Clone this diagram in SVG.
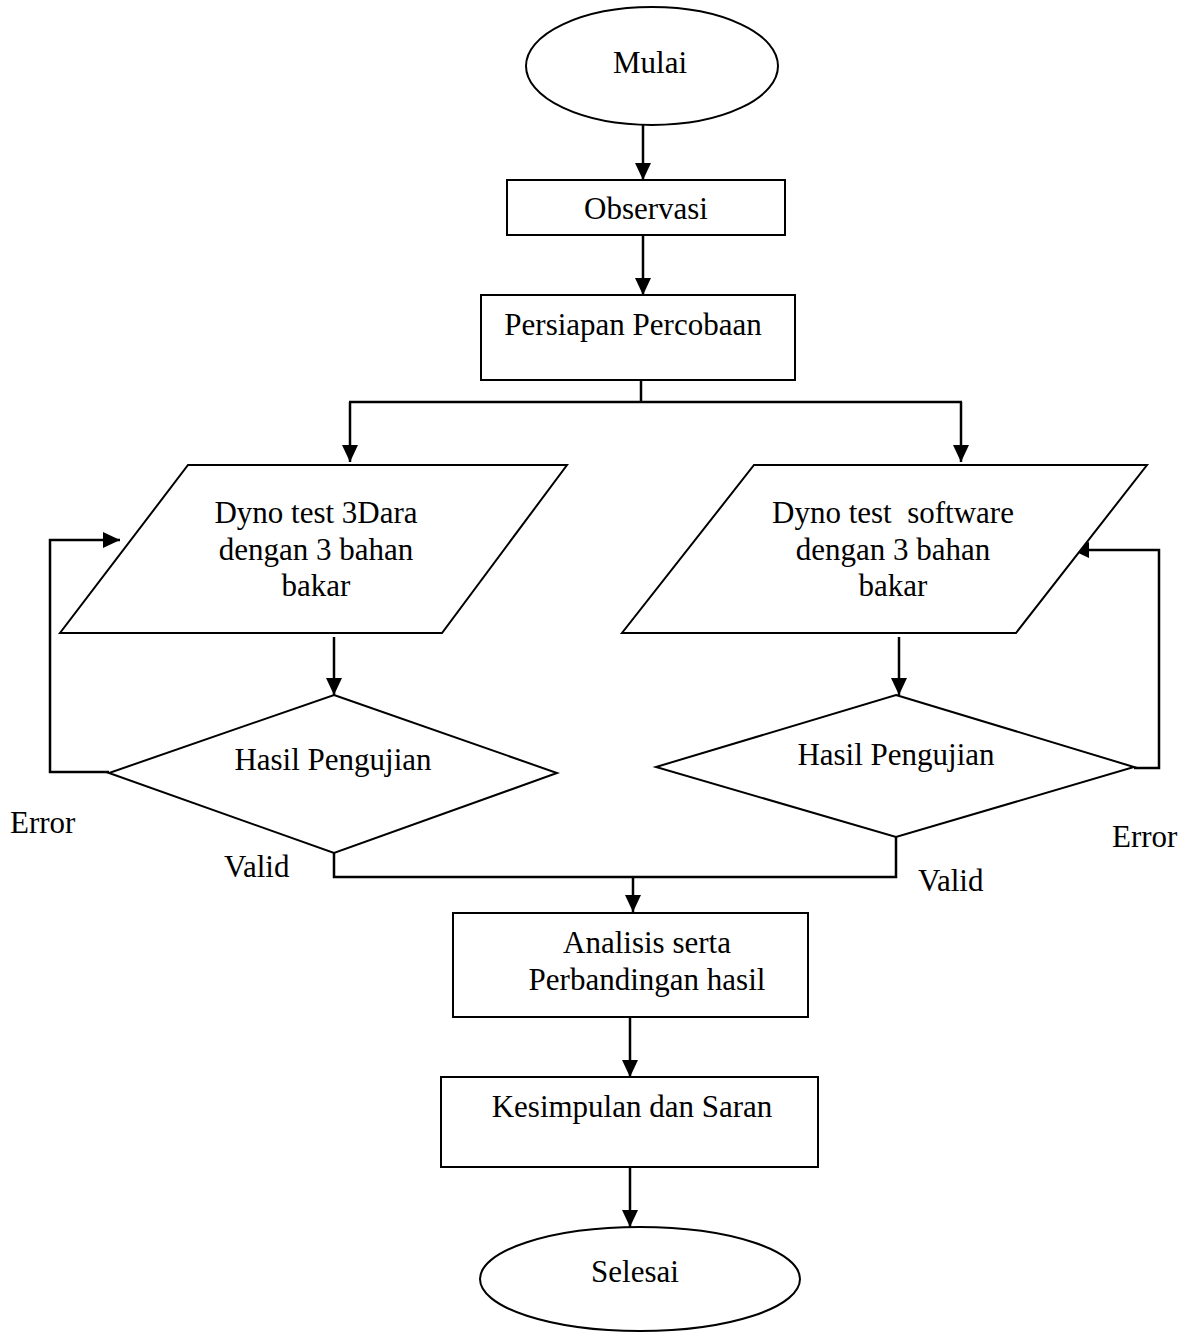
<svg xmlns="http://www.w3.org/2000/svg" width="1189" height="1337" viewBox="0 0 1189 1337">
<style>
.s{fill:#fff;stroke:#000;stroke-width:2}
.c{fill:none;stroke:#000;stroke-width:2.5}
.t{font-family:"Liberation Serif","Times New Roman",serif;font-size:31px;fill:#000;text-anchor:middle}
.l{font-family:"Liberation Serif","Times New Roman",serif;font-size:31px;fill:#000}
</style>
<defs>
<marker id="a" markerUnits="userSpaceOnUse" markerWidth="17" markerHeight="16" viewBox="0 0 17 16" refX="17" refY="8" orient="auto">
<path d="M0,0 L17,8 L0,16 Z" fill="#000"/>
</marker>
</defs>
<rect width="1189" height="1337" fill="#fff"/>
<g id="connectors">
<line class="c" x1="643" y1="125" x2="643" y2="180" marker-end="url(#a)"/>
<line class="c" x1="643" y1="235" x2="643" y2="295" marker-end="url(#a)"/>
<line class="c" x1="641" y1="380" x2="641" y2="402"/>
<line class="c" x1="349" y1="402" x2="962" y2="402"/>
<line class="c" x1="350" y1="402" x2="350" y2="462" marker-end="url(#a)"/>
<line class="c" x1="961" y1="402" x2="961" y2="462" marker-end="url(#a)"/>
<line class="c" x1="334" y1="637" x2="334" y2="695" marker-end="url(#a)"/>
<line class="c" x1="899" y1="637" x2="899" y2="695" marker-end="url(#a)"/>
<path class="c" d="M109,772 H50 V540 H120" marker-end="url(#a)"/>
<path class="c" d="M1134,768 H1159 V550 H1072" marker-end="url(#a)"/>
<path class="c" d="M334,853 V877 H896 V837"/>
<line class="c" x1="633" y1="877" x2="633" y2="912" marker-end="url(#a)"/>
<line class="c" x1="630" y1="1017" x2="630" y2="1077" marker-end="url(#a)"/>
<line class="c" x1="630" y1="1167" x2="630" y2="1227" marker-end="url(#a)"/>
</g>
<g id="mulai">
<ellipse class="s" cx="652" cy="66" rx="126" ry="59"/>
<text class="t" x="650" y="73">Mulai</text>
</g>
<g id="observasi">
<rect class="s" x="507" y="180" width="278" height="55"/>
<text class="t" x="646" y="219">Observasi</text>
</g>
<g id="persiapan">
<rect class="s" x="481" y="295" width="314" height="85"/>
<text class="t" x="633" y="335">Persiapan Percobaan</text>
</g>
<g id="dyno3dara">
<polygon class="s" points="188,465 567,465 442,633 60,633"/>
<text class="t" x="316" y="523">Dyno test 3Dara</text>
<text class="t" x="316" y="560">dengan 3 bahan</text>
<text class="t" x="316" y="596">bakar</text>
</g>
<g id="dynosoftware">
<polygon class="s" points="754,465 1147,465 1016,633 622,633"/>
<text class="t" x="893" y="523" xml:space="preserve">Dyno test  software</text>
<text class="t" x="893" y="560">dengan 3 bahan</text>
<text class="t" x="893" y="596">bakar</text>
</g>
<g id="hasil1">
<polygon class="s" points="334,695 557,773 334,853 109,773"/>
<text class="t" x="333" y="770">Hasil Pengujian</text>
</g>
<g id="hasil2">
<polygon class="s" points="896,695 1134,767 896,837 656,767"/>
<text class="t" x="896" y="765">Hasil Pengujian</text>
</g>
<g id="labels">
<text class="l" x="10" y="833">Error</text>
<text class="l" x="224" y="877">Valid</text>
<text class="l" x="1112" y="847">Error</text>
<text class="l" x="918" y="891">Valid</text>
</g>
<g id="analisis">
<rect class="s" x="453" y="913" width="355" height="104"/>
<text class="t" x="647" y="953">Analisis serta</text>
<text class="t" x="647" y="990">Perbandingan hasil</text>
</g>
<g id="kesimpulan">
<rect class="s" x="441" y="1077" width="377" height="90"/>
<text class="t" x="632" y="1117">Kesimpulan dan Saran</text>
</g>
<g id="selesai">
<ellipse class="s" cx="640" cy="1279" rx="160" ry="52"/>
<text class="t" x="635" y="1282">Selesai</text>
</g>
</svg>
